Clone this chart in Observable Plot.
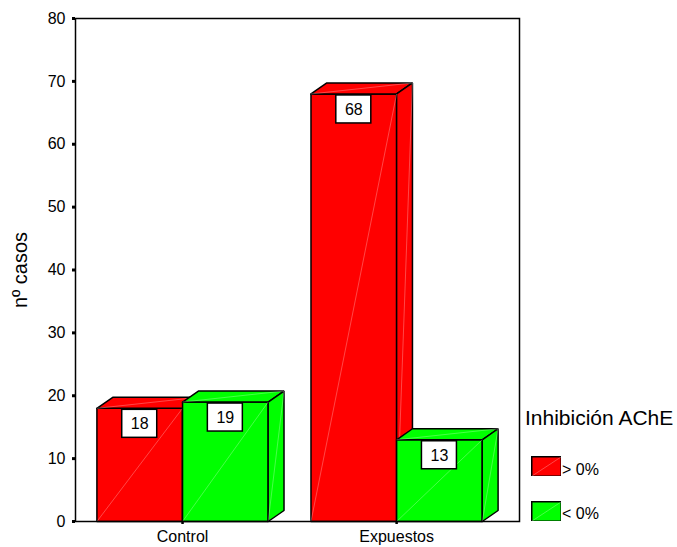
<!DOCTYPE html>
<html><head><meta charset="utf-8">
<script src="https://cdn.jsdelivr.net/npm/d3@7"></script>
<script src="https://cdn.jsdelivr.net/npm/@observablehq/plot@0.6"></script>
<style>
body{margin:0;background:#fff;font-family:"Liberation Sans",Arial,sans-serif;}
#wrap{position:relative;width:677px;height:547px;overflow:hidden;}
.lg{position:absolute;color:#000;white-space:nowrap;}
.sw{position:absolute;width:30px;height:20px;}
</style></head><body><div id="wrap"></div>
<script>
// ---- data ----
const categories = ["Control", "Expuestos"];
const series = ["> 0%", "< 0%"];
const seriesColors = ["#ff0000", "#00ff00"];
const valuesGt0 = [18, 68];
const valuesLt0 = [19, 13];
const yTicks = [0, 10, 20, 30, 40, 50, 60, 70, 80];
const xTicks = [0, 1];
const yLabel = "nº casos";
const legendTitle = "Inhibición AChE";

// ---- geometry (data units) ----
const barW = 0.4, depthX = 0.074, depthY = 1.75;

const bars = [];
categories.forEach((c, i) => {
  series.forEach((s, j) => {
    const v = (j === 0 ? valuesGt0 : valuesLt0)[i];
    const x0 = i - barW + j * barW;
    bars.push({category: c, series: s, value: v, x0, x1: x0 + barW, id: c + "|" + s});
  });
});

function faces(b) {
  const X0 = b.x0, X1 = b.x1, v = b.value, dx = depthX, dy = depthY;
  const f = {
    front: [[X0,0],[X1,0],[X1,v],[X0,v],[X0,0]],
    top: [[X0,v],[X1,v],[X1+dx,v+dy],[X0+dx,v+dy],[X0,v]],
    side: [[X1,0],[X1+dx,dy],[X1+dx,v+dy],[X1,v],[X1,0]]
  };
  const rows = [];
  for (const k of ["front","top","side"]) for (const [x,y] of f[k]) rows.push({face: b.id + k, series: b.series, x, y});
  return rows;
}
function diags(b) {
  const X0 = b.x0, X1 = b.x1, v = b.value, dx = depthX, dy = depthY;
  return [
    {x1: X0, y1: 0, x2: X1, y2: v},
    {x1: X0, y1: v, x2: X1 + dx, y2: v + dy},
    {x1: X1, y1: 0, x2: X1 + dx, y2: v + dy}
  ];
}

const barMarks = bars.flatMap(b => [
  Plot.line(faces(b), {x: "x", y: "y", z: "face", fill: "series", stroke: "black", strokeWidth: 1.5, strokeLinejoin: "miter", curve: "linear"}),
  Plot.link(diags(b), {x1: "x1", y1: "y1", x2: "x2", y2: "y2", stroke: "white", strokeOpacity: 0.4, strokeWidth: 0.7})
]);

const center = d => (d.x0 + d.x1) / 2;

const chart = Plot.plot({
  width: 677, height: 547,
  marginLeft: 75, marginRight: 158, marginTop: 18, marginBottom: 26,
  x: {domain: [-0.5, 1.5 + depthX], axis: null},
  y: {domain: [0, 80], axis: null},
  color: {domain: series, range: seriesColors},
  style: {fontFamily: "'Liberation Sans', Arial, sans-serif", fontSize: "16px", background: "white", color: "black"},
  marks: [
    ...barMarks,
    Plot.frame({stroke: "black", strokeWidth: 1.5}),
    Plot.axisY({ticks: yTicks, tickSize: 3, strokeWidth: 3, tickPadding: 7, fontSize: 16, label: null}),
    Plot.axisX({ticks: xTicks, tickFormat: i => categories[i], tickSize: 3, strokeWidth: 2.5, tickPadding: 6, fontSize: 16, label: null}),
    Plot.rect(bars, {x1: center, x2: center, y1: "value", y2: "value", insetLeft: -17.5, insetRight: -17.5, insetTop: 1.5, insetBottom: -29.5, fill: "white", stroke: "black", strokeWidth: 1.5}),
    Plot.text(bars, {x: center, y: "value", text: d => String(d.value), dy: 16, fontSize: 16, lineAnchor: "middle"}),
    Plot.text([yLabel], {text: d => d, frameAnchor: "left", textAnchor: "middle", rotate: -90, dx: -55, fontSize: 20, lineAnchor: "middle"})
  ]
});

const wrap = document.getElementById("wrap");
wrap.appendChild(chart);

// ---- legend ----
function addDiv(cls, text, left, top, size) {
  const d = document.createElement("div");
  d.className = cls; d.textContent = text;
  d.style.left = left + "px"; d.style.top = top + "px";
  d.style.fontSize = size + "px"; d.style.lineHeight = (size + 4) + "px";
  wrap.appendChild(d);
}
addDiv("lg", legendTitle, 525, 405, 21);
series.forEach((s, j) => {
  const top = j === 0 ? 456 : 501;
  const sw = document.createElementNS("http://www.w3.org/2000/svg", "svg");
  sw.setAttribute("width", 31); sw.setAttribute("height", 21);
  sw.setAttribute("class", "sw");
  sw.style.left = "530.5px"; sw.style.top = (top - 0.5) + "px";
  sw.innerHTML = `<rect x="0.75" y="0.75" width="29.5" height="19.5" fill="${seriesColors[j]}" stroke="black" stroke-width="1.5"/>` +
    `<line x1="1" y1="20" x2="30" y2="1" stroke="white" stroke-opacity="0.4" stroke-width="0.7"/>`;
  wrap.appendChild(sw);
  addDiv("lg", s, 562, j === 0 ? 460 : 504, 16);
});
</script></body></html>
